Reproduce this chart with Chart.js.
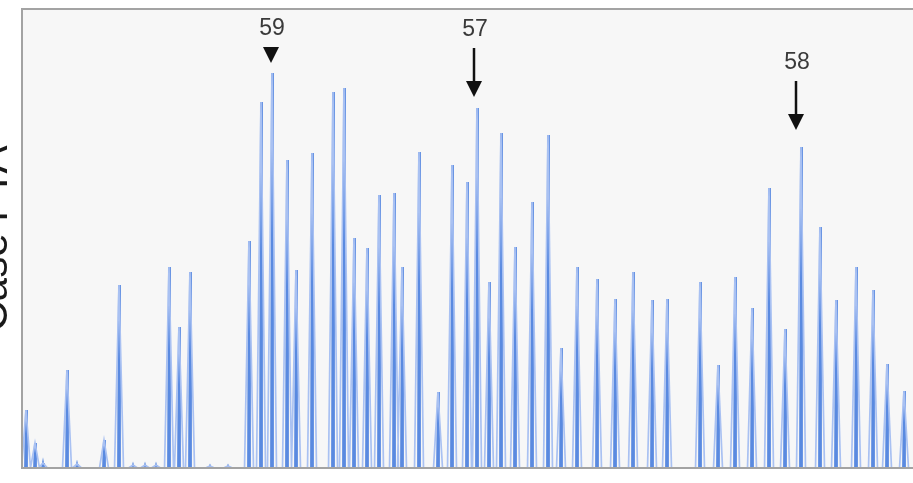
<!DOCTYPE html>
<html>
<head>
<meta charset="utf-8">
<script src="https://cdn.jsdelivr.net/npm/chart.js@4.4.1/dist/chart.umd.min.js"></script>
<style>
  html, body { margin: 0; padding: 0; background: #fff; overflow: hidden; }
  #wrap { position: absolute; left: -30px; top: 0; width: 965px; height: 483px; }
</style>
</head>
<body>
<div id="wrap"><canvas id="trace"></canvas></div>
<script>
// peak positions (scan points) and peak heights (signal)
const peakPos = [26, 35, 43, 67, 77, 104, 119, 133, 145, 156, 169, 179, 190, 210, 228,
  249, 261, 272, 287, 296, 312, 333, 344, 354, 367, 379, 394, 402, 419, 438,
  452, 467, 477, 489, 501, 515, 532, 548, 561, 577, 597, 615, 633, 652, 667,
  700, 718, 735, 752, 769, 785, 801, 820, 836, 856, 873, 887, 904];
const peakHeight = [58, 25, 5, 98, 4, 28, 183, 3, 3, 3, 201, 141, 196, 2, 2,
  227, 366, 395, 308, 198, 315, 376, 380, 230, 220, 273, 275, 201, 316, 76,
  303, 286, 360, 186, 335, 221, 266, 333, 120, 201, 189, 169, 196, 168, 169,
  186, 103, 191, 160, 280, 139, 321, 241, 168, 201, 178, 104, 77];

// marked alleles
const markLabels = ['59', '57', '58'];
const markPos = [271, 474, 796];
const markTip = [405, 371, 338];   // signal level of the arrow tip
const markKind = ['triangle', 'arrow', 'arrow'];

const xMin = 22, xMax = 935, yMax = 459;

function buildTrace(halfWidth) {
  const pts = [];
  peakPos.forEach((p, i) => {
    pts.push({ x: p - halfWidth, y: 0 });
    pts.push({ x: p, y: peakHeight[i] });
    pts.push({ x: p + halfWidth, y: 0 });
  });
  return pts;
}

const plotFrame = {
  id: 'plotFrame',
  beforeDraw(chart) {
    const { ctx, chartArea: a } = chart;
    ctx.save();
    ctx.fillStyle = '#f7f7f7';
    ctx.fillRect(a.left, a.top, a.right - a.left, a.bottom - a.top);
    ctx.restore();
  },
  afterDatasetsDraw(chart) {
    const { ctx, chartArea: a, scales } = chart;
    ctx.save();
    ctx.strokeStyle = '#a3a3a3';
    ctx.lineWidth = 2;
    ctx.strokeRect(a.left, a.top, a.right - a.left + 20, a.bottom - a.top);

    // allele markers
    ctx.fillStyle = '#111';
    ctx.strokeStyle = '#111';
    markLabels.forEach((lab, i) => {
      const x = scales.x.getPixelForValue(markPos[i]);
      const tip = scales.y.getPixelForValue(markTip[i]);
      let top;
      if (markKind[i] === 'triangle') {
        top = tip - 16;
        ctx.beginPath();
        ctx.moveTo(x - 8, top);
        ctx.lineTo(x + 8, top);
        ctx.lineTo(x, tip);
        ctx.closePath();
        ctx.fill();
      } else {
        top = tip - 49;
        ctx.lineWidth = 2.5;
        ctx.beginPath();
        ctx.moveTo(x, top);
        ctx.lineTo(x, tip - 14);
        ctx.stroke();
        ctx.beginPath();
        ctx.moveTo(x - 8, tip - 16);
        ctx.lineTo(x + 8, tip - 16);
        ctx.lineTo(x, tip);
        ctx.closePath();
        ctx.fill();
      }
      ctx.fillStyle = '#3a3a3a';
      ctx.font = '23px "Liberation Sans Narrow", "Liberation Sans", Arial, sans-serif';
      ctx.textAlign = 'center';
      ctx.textBaseline = 'middle';
      ctx.fillText(lab, x + 1, top - 18);
      ctx.fillStyle = '#111';
    });
    ctx.restore();
  }
};

new Chart(document.getElementById('trace'), {
  type: 'line',
  data: {
    datasets: [
      {
        label: 'outline',
        data: buildTrace(4.5),
        borderColor: '#a9c1f2',
        borderWidth: 1.7,
        pointRadius: 0,
        fill: false,
        tension: 0
      },
      {
        label: 'peak',
        data: buildTrace(0.9),
        borderColor: '#5a8ae0',
        borderWidth: 2,
        pointRadius: 0,
        fill: false,
        tension: 0
      }
    ]
  },
  options: {
    responsive: true,
    maintainAspectRatio: false,
    animation: false,
    events: [],
    layout: { padding: { top: 9, bottom: 15, left: 0, right: 0 } },
    plugins: {
      legend: { display: false },
      tooltip: { enabled: false }
    },
    scales: {
      x: {
        type: 'linear',
        min: xMin,
        max: xMax,
        grid: { display: false },
        border: { display: false },
        ticks: { display: false },
        afterFit(scale) { scale.height = 0; }
      },
      y: {
        min: 0,
        max: yMax,
        grid: { display: false },
        border: { display: false },
        ticks: { display: false },
        title: {
          display: true,
          text: 'Case FTA',
          color: '#1a1a1a',
          padding: 0,
          font: { size: 42, family: 'Arial, "Liberation Sans", sans-serif' }
        },
        afterFit(scale) { scale.width = 52; }
      }
    }
  },
  plugins: [plotFrame]
});
</script>
</body>
</html>
